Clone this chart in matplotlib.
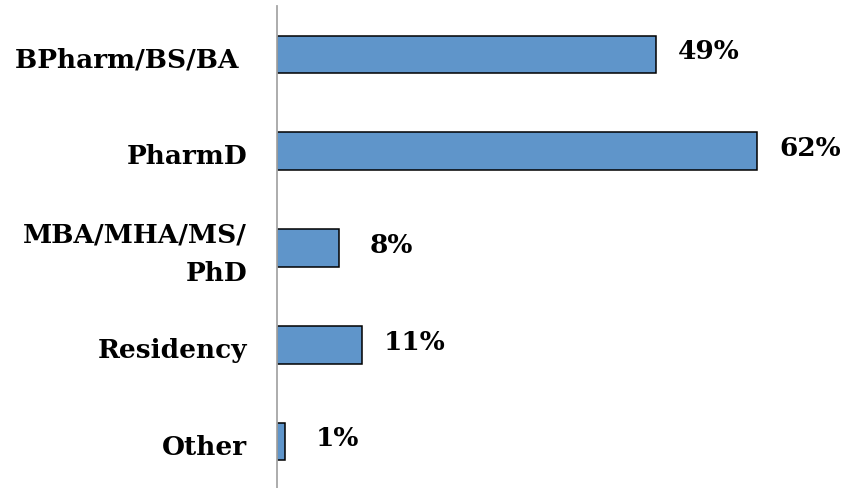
import matplotlib
matplotlib.use("Agg")
import matplotlib.pyplot as plt
from matplotlib.transforms import ScaledTranslation

categories = ["BPharm/BS/BA ", "PharmD", "MBA/MHA/MS/\nPhD", "Residency", "Other"]
values = [49, 62, 8, 11, 1]
value_labels = ["49%", "62%", "8%", "11%", "1%"]

W, H = 846, 488
fig = plt.figure(figsize=(W / 100, H / 100), dpi=100)
ax = fig.add_axes([277 / W, (488 - 490) / H, 569 / W, 484 / H])

font = dict(family="DejaVu Serif", weight="bold", size=19)

ypos = list(range(len(categories)))
ax.barh(ypos, values, height=0.39, color="#5F95CA", edgecolor="black", linewidth=1.1)

ax.set_xlim(0, 73.5)
ax.set_ylim(len(categories) - 0.5, -0.5)
ax.set_yticks(ypos)
ax.set_yticklabels(categories, fontdict=font, linespacing=1.68)
ax.tick_params(axis="y", length=0, pad=21.5)
for lbl in ax.get_yticklabels():
    dy = 3 if "\n" in lbl.get_text() else -3
    lbl.set_transform(lbl.get_transform() + ScaledTranslation(0, dy / 100, fig.dpi_scale_trans))
ax.set_xticks([])
for s in ["top", "right", "bottom"]:
    ax.spines[s].set_visible(False)
ax.spines["left"].set_color("#A6A6A6")
ax.spines["left"].set_linewidth(1.3)

for i, (v, lab) in enumerate(zip(values, value_labels)):
    ax.annotate(lab, xy=(v, i), xytext=(38, 2), textcoords="offset points",
                ha="center", va="center", **font)

fig.savefig("out.png", dpi=100)
